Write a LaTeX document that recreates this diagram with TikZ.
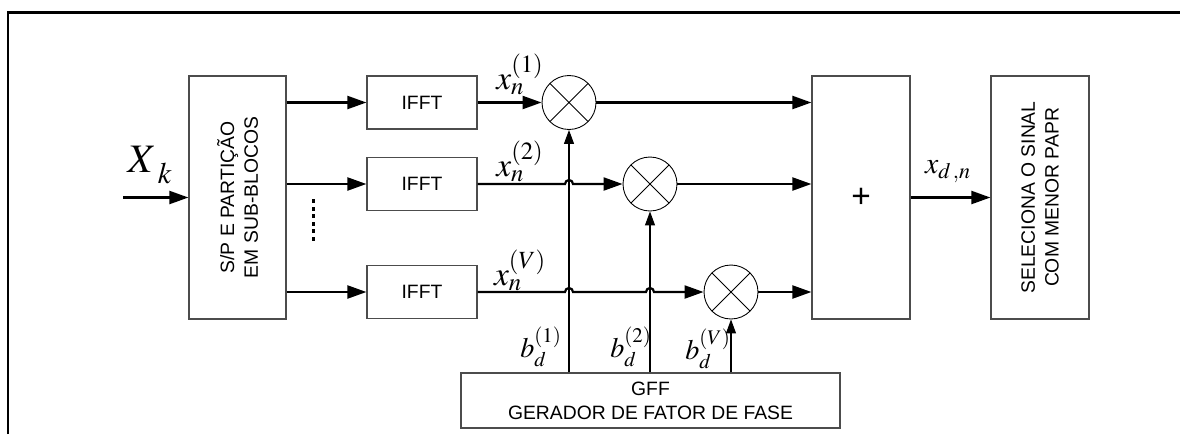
\documentclass[tikz,border=0pt]{standalone}
\usepackage{mathptmx}
\usepackage[no-math]{fontspec}
\setmainfont{Liberation Sans}
\usetikzlibrary{arrows.meta, positioning, calc}

\tikzset{
  box/.style={draw=black!70, line width=0.7pt, inner sep=2pt},
  mixer/.style={circle, draw, line width=0.5pt, minimum size=1.08cm, inner sep=0pt,
    path picture={\draw[line width=0.5pt]
      (path picture bounding box.north west) -- (path picture bounding box.south east)
      (path picture bounding box.north east) -- (path picture bounding box.south west);}},
  sig/.style={line width=1.25pt, -{Triangle[length=0.38cm,width=0.26cm]}},
  ctl/.style={line width=0.6pt, -{Triangle[length=0.28cm,width=0.2cm]}},
  lbl/.style={inner sep=0pt, font=\fontsize{19}{20}\selectfont},
}

\begin{document}
\begin{tikzpicture}[x=0.02cm, y=-0.02cm,
    every node/.append style={font=\fontsize{11}{13.5}\selectfont}]
  \useasboundingbox (0,0) rectangle (1180,434);
  \draw[line width=1.7pt] (8,434) -- (8,12) -- (1180,12);

  % blocks
  \node[box, minimum width=1.94cm, minimum height=4.86cm] (sp) at (237.5,197.5) {};
  \node[rotate=90, align=center] at (sp.center) {S/P E PARTIÇÃO\\EM SUB-BLOCOS};
  \node[box, minimum width=2.2cm, minimum height=1.06cm] (ifft1) at (422,102.5) {IFFT};
  \node[box, minimum width=2.2cm, minimum height=1.06cm] (ifft2) at (422,184) {IFFT};
  \node[box, minimum width=2.2cm, minimum height=1.06cm] (ifft3) at (422,292) {IFFT};
  \node[mixer] (m1) at (569,102.5) {};
  \node[mixer] (m2) at (650,184) {};
  \node[mixer] (m3) at (731,292) {};
  \node[box, minimum width=1.96cm, minimum height=4.86cm, font=\fontsize{19}{20}\selectfont] (sum) at (861,197.5) {+};
  \node[box, minimum width=1.96cm, minimum height=4.86cm] (sel) at (1040,197.5) {};
  \node[rotate=90, align=center] at (sel.center) {SELECIONA O SINAL\\COM MENOR PAPR};
  \node[box, minimum width=7.58cm, minimum height=1.1cm, align=center] (gff) at (650.5,400.5)
    {GFF\\GERADOR DE FATOR DE FASE};

  % signal path
  \coordinate (in) at (123,197.5);
  \draw[sig] (in) -- (sp);
  \draw[sig] (sp.east |- ifft1) -- (ifft1);
  \draw[sig] (sp.east |- ifft2) -- (ifft2);
  \draw[sig] (sp.east |- ifft3) -- (ifft3);
  \foreach \k in {0,...,5}
    \fill (311.5,199+\k*7.6) rectangle ++(3,4);

  \draw[sig] (ifft1) -- (m1);
  \draw[sig] (ifft2) -- ($(m1|-ifft2)+(-4,0)$) arc[start angle=180, end angle=360, radius=4] -- (m2);
  \draw[sig] (ifft3) -- ($(m1|-ifft3)+(-4,0)$) arc[start angle=180, end angle=360, radius=4]
    -- ($(m2|-ifft3)+(-4,0)$) arc[start angle=180, end angle=360, radius=4] -- (m3);

  \draw[sig] (m1) -- (m1 -| sum.west);
  \draw[sig] (m2) -- (m2 -| sum.west);
  \draw[sig] (m3) -- (m3 -| sum.west);
  \draw[sig] (sum) -- (sel);

  % phase factors
  \draw[ctl] (gff.north -| m1) -- (m1);
  \draw[ctl] (gff.north -| m2) -- (m2);
  \draw[ctl] (gff.north -| m3) -- (m3);

  % labels
  \node[lbl, font=\fontsize{23}{24}\selectfont] (xk) at (150,165)
    {$X_{\;\raisebox{-3pt}{$\scriptstyle k$}}$};
  \node[lbl] (x1) at (520,74) {$x_n^{(1)}$};
  \node[lbl] (x2) at (520,161) {$x_n^{(2)}$};
  \node[lbl] (xv) at (520,270) {$x_n^{(V)}$};
  \node[lbl, font=\fontsize{17}{18}\selectfont] (xd) at (948,172) {$x_{d\,,n}$};
  \node[lbl, font=\fontsize{16}{18}\selectfont] (b1) at (541,347) {$b_d^{(1)}$};
  \node[lbl, font=\fontsize{16}{18}\selectfont] (b2) at (631,347) {$b_d^{(2)}$};
  \node[lbl, font=\fontsize{16}{18}\selectfont] (bv) at (708,349) {$b_d^{(V)}$};
\end{tikzpicture}
\end{document}
